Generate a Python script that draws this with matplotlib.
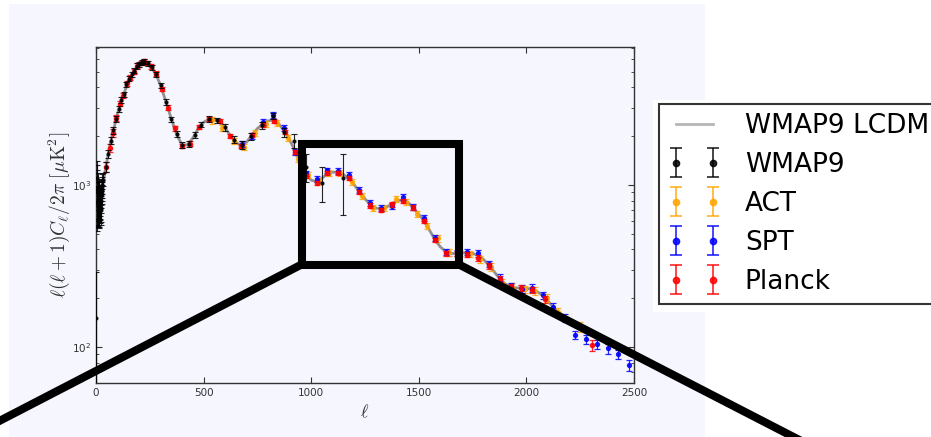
import numpy as np
import matplotlib
matplotlib.use('Agg')
import matplotlib.pyplot as plt
from matplotlib.patches import Rectangle, ConnectionPatch
from matplotlib.lines import Line2D
from matplotlib.container import ErrorbarContainer
from matplotlib.legend_handler import HandlerErrorbar

plt.rcParams['mathtext.fontset'] = 'cm'
plt.rcParams['font.family'] = ['DejaVu Sans']

# theory curve, WMAP9 best-fit LCDM
theory_l = [2, 5, 10, 15, 20, 25, 30, 40, 50, 60, 75, 100, 125, 150, 175, 200, 220, 240,
            260, 280, 300, 325, 350, 375, 400, 425, 450, 475, 500, 525, 550, 575, 600, 625,
            650, 675, 700, 725, 750, 775, 800, 825, 850, 875, 900, 925, 950, 975, 1000,
            1025, 1050, 1075, 1100, 1125, 1150, 1175, 1200, 1225, 1250, 1275, 1300, 1325,
            1350, 1375, 1400, 1425, 1450, 1475, 1500, 1525, 1550, 1575, 1600, 1625, 1650,
            1675, 1700, 1725, 1750, 1775, 1800, 1825, 1850, 1875, 1900, 1925, 1950, 1975,
            2000, 2025, 2050, 2075, 2100, 2125, 2150, 2175, 2200]
theory_D = [1020, 840, 780, 800, 840, 900, 980, 1160, 1390, 1640, 2010, 2760, 3520, 4330,
            5020, 5530, 5740, 5650, 5270, 4760, 4120, 3260, 2560, 2050, 1760, 1770, 1950,
            2230, 2440, 2540, 2530, 2440, 2250, 2010, 1830, 1750, 1840, 2040, 2230, 2380,
            2490, 2510, 2380, 2150, 1890, 1630, 1370, 1170, 1070, 1050, 1100, 1170, 1200,
            1195, 1160, 1100, 1000, 905, 820, 755, 720, 712, 730, 765, 800, 808, 780, 720,
            660, 600, 525, 460, 415, 388, 378, 378, 381, 382, 378, 368, 348, 320, 292, 265,
            246, 236, 232, 231, 230, 227, 220, 208, 192, 176, 163, 152, 142]

# WMAP9
wmap_l = [2, 3, 4, 5, 6, 7, 8, 9, 10, 11, 12, 13, 14, 15, 16, 17, 18, 19, 20, 21, 22, 23,
          24, 25, 26, 27, 28, 29, 30, 33, 45, 57, 69, 81, 93, 105, 117, 129, 141, 153, 165,
          177, 189, 201, 213, 225, 240, 258, 278, 300, 325, 350, 375, 400, 430, 460, 490,
          525, 560, 600, 640, 680, 720, 770, 824, 875, 920, 976, 1049, 1149]
wmap_D = [151, 960, 900, 1100, 780, 940, 820, 760, 740, 800, 720, 780, 700, 900, 940, 790,
          760, 720, 740, 700, 720, 850, 880, 800, 920, 880, 950, 1000, 1060, 1080, 1290,
          1560, 1880, 2180, 2560, 2960, 3340, 3620, 4180, 4520, 4820, 5080, 5430, 5560,
          5700, 5760, 5620, 5330, 4810, 4120, 3250, 2540, 2060, 1770, 1780, 2040, 2360,
          2550, 2500, 2270, 1900, 1760, 2000, 2330, 2660, 2120, 1880, 1300, 1033, 1100]
wmap_err = [140, 360, 330, 300, 260, 240, 220, 200, 190, 180, 170, 165, 160, 155, 150, 145,
            140, 138, 135, 132, 130, 128, 126, 124, 122, 120, 118, 116, 114, 100, 95, 95,
            100, 110, 120, 130, 140, 150, 160, 170, 180, 190, 200, 200, 210, 210, 200, 190,
            170, 150, 120, 100, 85, 75, 75, 85, 95, 105, 105, 105, 95, 95, 105, 115, 125,
            135, 190, 250, 250, 450]

# ACT
act_l = [540, 584, 640, 689, 740, 789, 840, 891, 940, 987, 1035, 1084, 1135, 1188, 1237,
         1289, 1340, 1394, 1442, 1490, 1540, 1591, 1640, 1690, 1738, 1785, 1835, 1885, 1935,
         1993, 2040, 2094, 2145, 2249]
act_D = [2500, 2240, 1860, 1724, 2100, 2380, 2420, 1940, 1450, 1153, 1060, 1180, 1180, 1040,
         860, 718, 725, 816, 790, 662, 560, 469, 385, 380, 375, 348, 312, 249, 236, 227, 222,
         200, 165, 133]
act_err = [110, 100, 80, 75, 85, 95, 95, 80, 60, 50, 45, 50, 50, 45, 38, 32, 32, 36, 35, 30,
           26, 22, 19, 18, 18, 17, 16, 13, 12, 12, 12, 11, 10, 9]

# SPT
spt_l = [677, 723, 778, 824, 875, 925, 975, 1025, 1075, 1126, 1177, 1224, 1273, 1323, 1374,
         1425, 1475, 1524, 1575, 1626, 1676, 1722, 1777, 1828, 1877, 1927, 1978, 2025, 2076,
         2125, 2179, 2226, 2276, 2327, 2378, 2427, 2478]
spt_D = [1800, 2010, 2460, 2700, 2240, 1605, 1180, 1084, 1229, 1220, 1153, 930, 770, 725, 745,
         847, 730, 625, 470, 385, 382, 385, 378, 325, 268, 238, 228, 232, 208, 176, 152, 119,
         112, 104, 98, 90, 77]
spt_err = [80, 85, 100, 110, 90, 65, 48, 44, 50, 50, 46, 38, 32, 30, 30, 34, 30, 26, 20, 17,
           17, 17, 17, 15, 13, 12, 12, 12, 11, 10, 9, 7, 7, 7, 7, 6, 6]

# Planck
planck_l = [47, 63, 79, 95, 111, 127, 143, 159, 175, 191, 207, 223, 239, 255, 277, 305, 333,
            365, 399, 435, 479, 527, 577, 624, 676, 724, 778, 825, 876, 925, 975, 1026, 1075,
            1126, 1177, 1224, 1273, 1323, 1374, 1425, 1475, 1525, 1575, 1626, 1676, 1722,
            1777, 1828, 1877, 1927, 1977, 2027, 2087, 2303]
planck_D = [1300, 1700, 2100, 2600, 3180, 3560, 4230, 4600, 5000, 5450, 5650, 5780, 5640,
            5400, 4870, 3900, 3000, 2240, 1740, 1800, 2270, 2540, 2470, 2000, 1740, 2030,
            2340, 2470, 2120, 1600, 1140, 1030, 1190, 1190, 1100, 905, 745, 700, 760, 800,
            725, 600, 458, 380, 376, 372, 355, 316, 262, 235, 233, 224, 197, 103]
planck_err = [90, 100, 110, 120, 130, 140, 150, 160, 170, 180, 180, 180, 180, 170, 150, 120,
              100, 80, 60, 60, 70, 75, 75, 60, 55, 60, 70, 75, 65, 50, 36, 32, 36, 36, 34, 28,
              24, 22, 24, 25, 23, 20, 16, 14, 14, 14, 14, 12, 11, 10, 10, 10, 9, 8]

# zoom box in data units (l range, D range)
zoom_l = [955, 1687]
zoom_D = [323, 1800]

fig = plt.figure(figsize=(9.31, 4.37), dpi=100, facecolor='white')
W, H = 931.0, 437.0

# lavender panel behind the plot, white pad behind the legend
fig.add_artist(Rectangle((9 / W, 0), 696 / W, 433 / H, transform=fig.transFigure,
                         facecolor='#f5f6fe', edgecolor='none', zorder=-10))
fig.add_artist(Rectangle((653 / W, 125 / H), 290 / W, 212 / H, transform=fig.transFigure,
                         facecolor='white', edgecolor='none', zorder=-5))

ax = fig.add_axes([96 / W, 54 / H, 538 / W, 336 / H])
ax.set_facecolor('#f5f6fe')

line, = ax.plot(theory_l, theory_D, color='0.5', lw=2, alpha=0.85, zorder=2)

ebkw = dict(fmt='o', capsize=2.2, elinewidth=0.9, capthick=0.9, alpha=0.85)
eb_a = ax.errorbar(act_l, act_D, yerr=act_err, color='orange', ms=2.8, zorder=3, **ebkw)
eb_s = ax.errorbar(spt_l, spt_D, yerr=spt_err, color='b', ms=2.8, zorder=4, **ebkw)
eb_p = ax.errorbar(planck_l, planck_D, yerr=planck_err, color='r', ms=3.0, zorder=5, **ebkw)
eb_w = ax.errorbar(wmap_l, wmap_D, yerr=wmap_err, color='k', ms=2.0, zorder=6,
                   fmt='o', capsize=2.4, elinewidth=0.8, capthick=0.8, alpha=0.85)

ax.set_yscale('log')
ax.set_xlim(0, 2500)
ax.set_ylim(60, 7100)
ax.set_xticks([0, 500, 1000, 1500, 2000, 2500])
ax.tick_params(which='both', direction='in', top=True, right=True,
               labelsize=7.5, labelcolor='#333333', color='#333333')
ax.tick_params(which='major', length=4, width=0.8)
ax.tick_params(which='minor', length=2, width=0.6)
for s in ax.spines.values():
    s.set_color('#333333')
    s.set_linewidth(1)

ax.set_xlabel(r'$\ell$', fontsize=13, color='#333333')
ax.set_ylabel(r'$\ell(\ell+1)C_\ell/2\pi\ [\mu\mathrm{K}^2]$', fontsize=14, color='#333333')
ax.yaxis.set_label_coords(-0.045, 0.5)

# zoom box and connector lines
ax.add_patch(Rectangle((zoom_l[0], zoom_D[0]), zoom_l[1] - zoom_l[0], zoom_D[1] - zoom_D[0],
                       fill=False, edgecolor='k', lw=5.8, joinstyle='miter',
                       clip_on=False, zorder=20))
for corner, end in [((zoom_l[0], zoom_D[0]), (-20 / W, 1 - 431 / H)),
                    ((zoom_l[1], zoom_D[0]), (813 / W, 1 - 447 / H))]:
    con = ConnectionPatch(xyA=corner, coordsA=ax.transData, xyB=end,
                          coordsB=fig.transFigure, color='k', lw=5.8, zorder=20)
    fig.add_artist(con)

leg = fig.legend([line, eb_w, eb_a, eb_s, eb_p],
                 ['WMAP9 LCDM', 'WMAP9', 'ACT', 'SPT', 'Planck'],
                 loc='upper left', bbox_to_anchor=(659 / W, 1 - 104 / H),
                 bbox_transform=fig.transFigure, numpoints=2, fontsize=19,
                 fancybox=False, framealpha=1, edgecolor='#333333', borderpad=0.35,
                 labelspacing=0.49, handlelength=2.0, handletextpad=0.9, borderaxespad=0,
                 handler_map={ErrorbarContainer: HandlerErrorbar(yerr_size=0.55)})
leg.get_frame().set_linewidth(1.5)
leg.get_lines()[0].set_color('#aaaaaa')
# bigger caps and dots in the legend keys
for ln in leg.findobj(Line2D):
    if ln.get_marker() == '_':
        ln.set_markersize(9)
        ln.set_markeredgewidth(1.2)
    elif ln.get_marker() == 'o':
        ln.set_markersize(4.5)
for lc in leg.findobj(matplotlib.collections.LineCollection):
    lc.set_linewidth(1.2)

fig.savefig('out.png', dpi=100)
